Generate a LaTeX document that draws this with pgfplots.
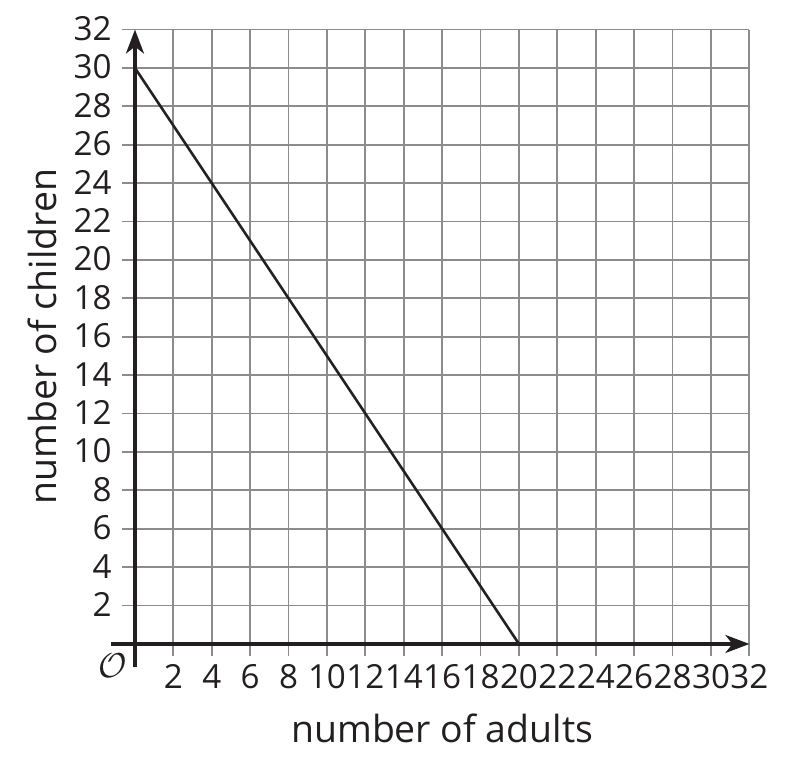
\documentclass[border=0pt]{standalone}
\usepackage{fontspec}
\setmainfont{Open Sans}
\usepackage{pgfplots}
\pgfplotsset{compat=1.18}
\usetikzlibrary{arrows.meta}
\definecolor{ink}{HTML}{231F20}
\definecolor{gridc}{HTML}{8C8C8C}
\begin{document}
\begin{tikzpicture}
\begin{axis}[
  x=9.6pt, y=9.6pt,
  xmin=-0.65, xmax=32, ymin=-0.65, ymax=32,
  axis line style={draw=none},
  xtick={2,4,...,32}, ytick={2,4,...,32},
  major tick length=0pt,
  grid=major,
  grid style={gridc, line width=0.9pt},
  tick label style={font=\fontsize{16.6}{18}\selectfont, text=ink},
  /pgf/number format/assume math mode=true,
  xticklabel style={anchor=north, inner sep=0pt, yshift=-3.8pt},
  yticklabel style={anchor=east, inner sep=0pt, xshift=-5.3pt, yshift=0.5pt},
  clip=false,
]
\path (axis cs:-7.03,-6.46) rectangle (axis cs:34.375,33.54);
\addplot[ink, line width=1.3pt] coordinates {(0,30) (20,0)};
\draw[ink, line width=1.6pt, -{Stealth[length=12pt,width=9pt,inset=3.5pt]}] (axis cs:0,-1.2) -- (axis cs:0,32);
\draw[ink, line width=1.6pt, -{Stealth[length=12pt,width=9pt,inset=3.5pt]}] (axis cs:-1.25,0) -- (axis cs:32,0);
\node[text=ink, font=\fontsize{19}{21}\selectfont, inner sep=0pt] at (axis cs:-1.15,-1.15) {$\mathcal{O}$};
\node[text=ink, font=\fontsize{18.7}{21}\selectfont, inner sep=0pt] at (axis cs:16,-4.4) {number of adults};
\node[text=ink, font=\fontsize{18.7}{21}\selectfont, inner sep=0pt, rotate=90] at (axis cs:-4.84,16) {number of children};
\end{axis}
\end{tikzpicture}
\end{document}
